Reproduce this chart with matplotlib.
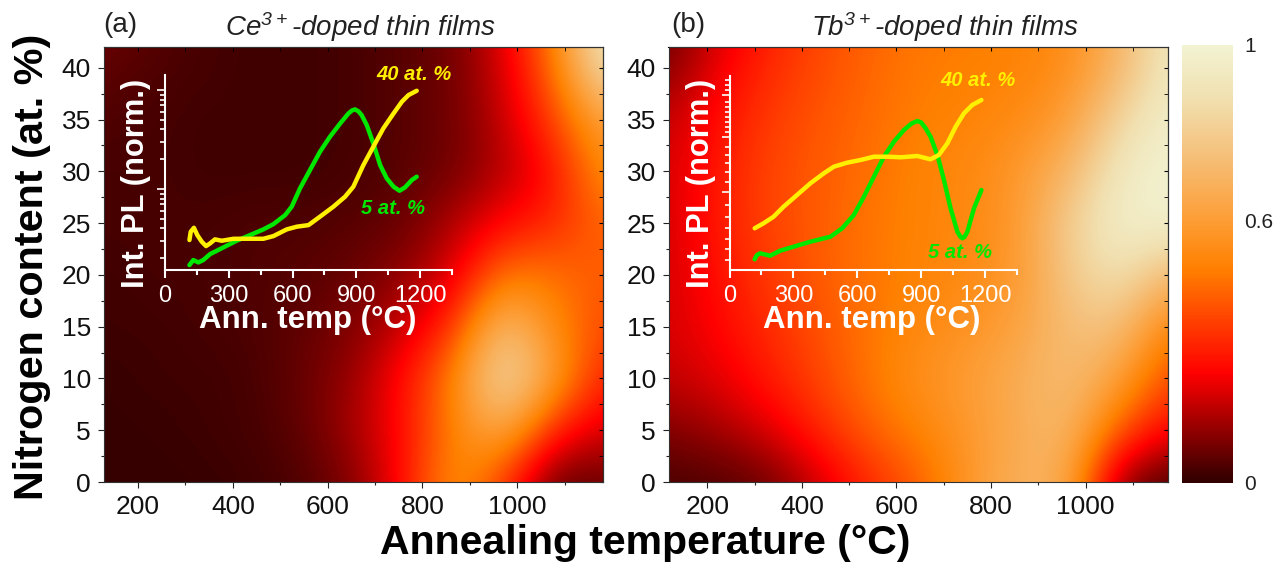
"""Nitrogen content vs annealing temperature PL maps, Ce3+ and Tb3+ doped thin films, with PL insets."""
import numpy as np
import matplotlib
matplotlib.use("Agg")
import matplotlib.pyplot as plt
from matplotlib.colors import LinearSegmentedColormap
from matplotlib.ticker import FixedLocator, NullFormatter, LogLocator, MultipleLocator

plt.rcParams["font.family"] = ["Liberation Sans", "DejaVu Sans"]
plt.rcParams["mathtext.default"] = "regular"

W, H = 1284, 570

# map grids: rows run from N = 0 upwards
nitrogen = [0, 5, 10, 15, 20, 25, 30, 35, 40, 45]
temp_ce = [130, 235, 340, 445, 550, 655, 760, 865, 970, 1075, 1180]
temp_tb = [120, 225, 330, 435, 540, 645, 750, 855, 960, 1065, 1170]

map_ce = [
    [.01, .01, .01, .02, .04, .10, .27, .56, .35, .04, .07],
    [.01, .01, .02, .03, .06, .15, .27, .50, .66, .30, .20],
    [.01, .02, .02, .03, .07, .13, .28, .50, .90, .60, .30],
    [.02, .02, .03, .04, .06, .10, .19, .34, .76, .52, .38],
    [.02, .03, .03, .04, .05, .07, .12, .21, .48, .46, .42],
    [.03, .03, .03, .04, .04, .05, .07, .16, .26, .32, .44],
    [.03, .03, .02, .02, .02, .03, .05, .08, .16, .27, .54],
    [.04, .03, .02, .02, .02, .03, .05, .08, .18, .37, .62],
    [.06, .04, .03, .02, .02, .03, .05, .08, .20, .45, .90],
    [.08, .05, .03, .02, .02, .03, .05, .08, .22, .50, .96],
]
map_tb = [
    [.03, .04, .07, .19, .32, .42, .57, .69, .67, .10, .02],
    [.10, .14, .21, .32, .43, .50, .58, .66, .72, .42, .25],
    [.18, .22, .30, .38, .47, .55, .60, .67, .74, .62, .38],
    [.20, .26, .33, .40, .47, .52, .56, .62, .74, .76, .50],
    [.20, .28, .36, .42, .47, .50, .53, .58, .78, .90, .72],
    [.20, .30, .38, .42, .47, .50, .52, .58, .80, .97, .98],
    [.20, .30, .38, .42, .46, .50, .52, .58, .70, .93, 1.0],
    [.18, .28, .36, .41, .45, .49, .50, .53, .60, .83, .97],
    [.10, .24, .33, .39, .44, .48, .49, .50, .54, .70, .93],
    [.06, .20, .30, .38, .43, .47, .48, .50, .53, .68, .93],
]

# inset (a): temperature, log10 of integrated PL
ce5_t = [115, 133, 157, 180, 212, 275, 337, 400, 463, 510, 565, 596, 635, 682, 729, 776, 824, 863, 880, 894, 910, 925,
         949, 980, 1012, 1043, 1075, 1103, 1129, 1161, 1184]
ce5_log = [.232, .283, .259, .283, .343, .411, .478, .535, .593, .646, .737, .822, 1.007, 1.192, 1.377, 1.529,
           1.663, 1.764, 1.795, 1.805, 1.785, 1.747, 1.646, 1.461, 1.242, 1.108, 1.024, .983, 1.017, 1.091, 1.125]
ce40_t = [115, 121, 136, 152, 173, 193, 212, 235, 267, 322, 384, 463, 510, 573, 620, 675, 729, 792, 847, 886,
          933, 980, 1027, 1075, 1114, 1145, 1184]
ce40_log = [.485, .569, .609, .535, .468, .424, .451, .492, .478, .498, .498, .498, .525, .593, .620, .636, .721,
            .822, .923, 1.024, 1.242, 1.428, 1.613, 1.764, 1.882, 1.949, 1.993]

# inset (b): temperature, integrated PL (arb. scale)
tb5_t = [118, 129, 144, 191, 238, 301, 380, 474, 529, 584, 631, 678, 725, 772, 819, 855, 882, 900, 920, 944, 976, 1007,
         1038, 1070, 1085, 1093, 1103, 1117, 1148, 1183]
tb5_pl = [10.7, 15, 16.7, 14.3, 19.3, 23.3, 28.3, 33.3, 41.7, 55, 73.3, 93.3, 113.3, 128.3, 140, 146.5, 149, 147.5, 142,
          133.3, 115, 90, 61.7, 38.3, 33, 31.7, 33, 38.3, 61.7, 80]
tb40_t = [118, 160, 207, 254, 317, 380, 443, 490, 552, 615, 678, 741, 804, 882, 944, 983, 1023, 1062, 1101, 1140, 1183]
tb40_pl = [41.7, 46.7, 53.3, 63.3, 75, 86.7, 96.7, 103.3, 107.3, 110, 113.3, 113.3, 112.7, 114, 110.7, 115, 126.7,
           143.3, 156.7, 165, 170]
tb_minor = [10, 20.7, 30.7, 41.7, 53, 65, 88, 97.7, 106.7, 115, 123, 138, 143, 148, 153, 158, 163, 168, 180, 185, 190]
tb_major = [78, 133, 175]

inset_ticks = [0, 300, 600, 900, 1200]
bar_ticks = [0, 0.6, 1]

heat = LinearSegmentedColormap.from_list("heat", [
    (0.0, "#300000"), (0.25, "#ff0000"), (0.49, "#ff8000"), (0.6, "#fd9d35"),
    (0.75, "#f5c07a"), (0.88, "#f1e0b0"), (1.0, "#f2f3d2")])


def axes_px(fig, left, top, right, bottom):
    return fig.add_axes([left / W, 1 - bottom / H, (right - left) / W, (bottom - top) / H])


def text_px(fig, x, y, s, **kw):
    kw.setdefault("ha", "center"); kw.setdefault("va", "center")
    return fig.text(x / W, 1 - y / H, s, **kw)


def heatmap(ax, temp, data, xlim):
    dt = temp[1] - temp[0]; dn = nitrogen[1] - nitrogen[0]
    im = ax.imshow(data, origin="lower", cmap=heat, vmin=0, vmax=1, aspect="auto", interpolation="bicubic",
                   extent=(temp[0] - dt / 2, temp[-1] + dt / 2, nitrogen[0] - dn / 2, nitrogen[-1] + dn / 2))
    ax.set_xlim(*xlim); ax.set_ylim(0, 42)
    ax.xaxis.set_major_locator(MultipleLocator(200)); ax.xaxis.set_minor_locator(MultipleLocator(100))
    ax.yaxis.set_major_locator(MultipleLocator(5)); ax.yaxis.set_minor_locator(MultipleLocator(2.5))
    ax.tick_params(which="major", length=4, width=0.8, labelsize=19, pad=5, color="#222", labelcolor="#111")
    ax.tick_params(which="minor", length=2.5, width=0.8, color="#222")
    sec = ax.secondary_xaxis("top"); sec.xaxis.set_major_locator(MultipleLocator(200))
    sec.xaxis.set_minor_locator(MultipleLocator(100)); sec.tick_params(which="both", direction="in", length=3, labeltop=False)
    sec2 = ax.secondary_yaxis("right"); sec2.yaxis.set_major_locator(MultipleLocator(5))
    sec2.yaxis.set_minor_locator(MultipleLocator(2.5)); sec2.tick_params(which="both", direction="in", length=3, labelright=False)
    for s in ax.spines.values():
        s.set_linewidth(0.8); s.set_color("#333")
    return im


def style_inset(ax):
    ax.patch.set_alpha(0)
    ax.spines["top"].set_visible(False); ax.spines["right"].set_visible(False)
    ax.spines["left"].set_color("white"); ax.spines["bottom"].set_color("white")
    ax.spines["left"].set_linewidth(1.5); ax.spines["bottom"].set_linewidth(1.5)
    ax.set_xlim(0, 1350)
    ax.set_xticks(inset_ticks)
    ax.xaxis.set_minor_locator(MultipleLocator(150))
    ax.tick_params(axis="x", which="major", colors="white", length=6, width=1.5, labelsize=17, pad=5)
    ax.tick_params(axis="x", which="minor", colors="white", length=3.5, width=1.5)
    ax.tick_params(axis="y", which="major", colors="white", length=6, width=1.2, labelleft=False)
    ax.tick_params(axis="y", which="minor", colors="white", length=3.5, width=1.2, labelleft=False)
    ax.yaxis.set_minor_formatter(NullFormatter())


fig = plt.figure(figsize=(W / 100, H / 100), dpi=100)

ax_a = axes_px(fig, 103.5, 47, 603, 482)
ax_b = axes_px(fig, 668.5, 47, 1168, 482)
im = heatmap(ax_a, temp_ce, map_ce, (127, 1181))
heatmap(ax_b, temp_tb, map_tb, (118, 1174))

cax = axes_px(fig, 1182, 45, 1233, 483)
cb = fig.colorbar(im, cax=cax)
cb.set_ticks(bar_ticks); cb.set_ticklabels(["0", "0.6", "1"])
cb.ax.tick_params(length=0, labelsize=15, pad=8, labelcolor="#222")
cb.outline.set_visible(False)

# inset (a), log axis
ins_a = axes_px(fig, 165, 75, 452, 269.5)
ins_a.set_yscale("log")
ins_a.plot(ce5_t, 10 ** np.array(ce5_log), color="#00e800", lw=3.2, solid_capstyle="round")
ins_a.plot(ce40_t, 10 ** np.array(ce40_log), color="#fff000", lw=3.2, solid_capstyle="round")
ins_a.set_ylim(1.54, 142)
style_inset(ins_a)
ins_a.yaxis.set_major_locator(LogLocator(base=10, numticks=5))
ins_a.yaxis.set_minor_locator(LogLocator(base=10, subs=range(2, 10), numticks=5))

# inset (b), tick marks as on the source axis
ins_b = axes_px(fig, 729.5, 76, 1017, 270)
ins_b.plot(tb5_t, tb5_pl, color="#00e800", lw=3.2, solid_capstyle="round")
ins_b.plot(tb40_t, tb40_pl, color="#fff000", lw=3.2, solid_capstyle="round")
ins_b.set_ylim(0, 194)
style_inset(ins_b)
ins_b.yaxis.set_major_locator(FixedLocator(tb_major))
ins_b.yaxis.set_minor_locator(FixedLocator(tb_minor))

# labels
text_px(fig, 645, 543, "Annealing temperature (°C)", fontsize=29.5, fontweight="bold")
text_px(fig, 32, 267, "Nitrogen content (at. %)", fontsize=29.8, fontweight="bold", rotation=90)
text_px(fig, 120, 25, "(a)", fontsize=20, color="#222")
text_px(fig, 688, 25, "(b)", fontsize=20, color="#222")
text_px(fig, 361, 27, "Ce$^{3+}$-doped thin films", fontsize=20, style="italic", color="#222")
text_px(fig, 945, 27, "Tb$^{3+}$-doped thin films", fontsize=20, style="italic", color="#222")

text_px(fig, 136, 183, "Int. PL (norm.)", fontsize=22.2, fontweight="bold", color="white", rotation=90)
text_px(fig, 701, 183, "Int. PL (norm.)", fontsize=22.2, fontweight="bold", color="white", rotation=90)
text_px(fig, 308, 320, "Ann. temp (°C)", fontsize=22.5, fontweight="bold", color="white")
text_px(fig, 872, 320, "Ann. temp (°C)", fontsize=22.5, fontweight="bold", color="white")

text_px(fig, 414, 75, "40 at. %", fontsize=14.5, fontweight="bold", style="italic", color="#fff000")
text_px(fig, 393, 208, "5 at. %", fontsize=14.5, fontweight="bold", style="italic", color="#00e800")
text_px(fig, 978, 81, "40 at. %", fontsize=14.5, fontweight="bold", style="italic", color="#fff000")
text_px(fig, 960, 252, "5 at. %", fontsize=14.5, fontweight="bold", style="italic", color="#00e800")

fig.savefig("out.png", dpi=100)
